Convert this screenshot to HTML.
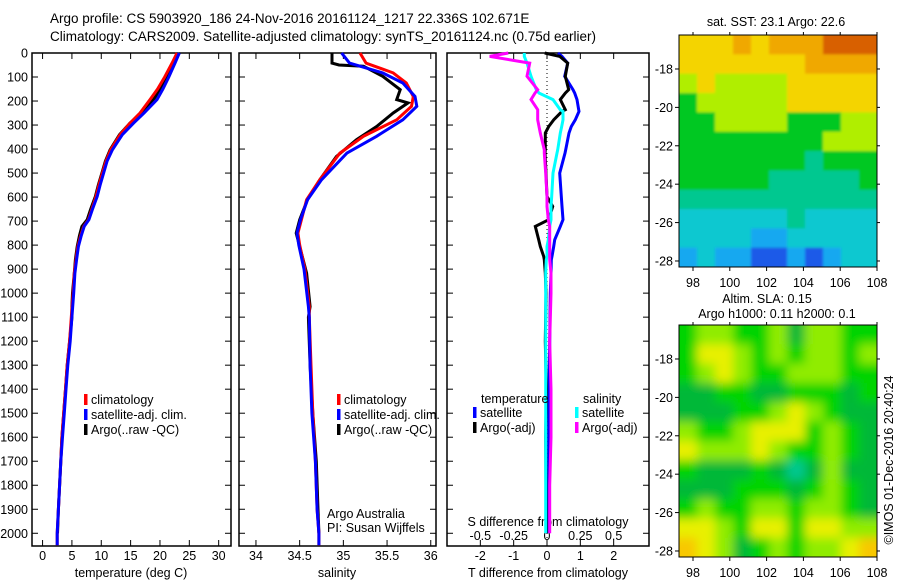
<!DOCTYPE html>
<html><head><meta charset="utf-8">
<style>
html,body{margin:0;padding:0;background:#fff;}
svg{display:block;font-family:"Liberation Sans",sans-serif;}
text{fill:#000;}
</style></head>
<body>
<svg id="fig" width="900" height="580" viewBox="0 0 900 580" xmlns="http://www.w3.org/2000/svg">
<defs>
<filter id="blur" x="0" y="0" width="1" height="1"><feGaussianBlur stdDeviation="5"/></filter>
<filter id="blur1" x="0" y="0" width="1" height="1"><feGaussianBlur stdDeviation="1.2"/></filter>
<clipPath id="clipMap2"><rect x="679" y="325" width="198" height="232"/></clipPath>
<clipPath id="clipMap1"><rect x="679" y="35" width="198" height="232"/></clipPath>
</defs>
<text x="50" y="23" font-size="13.5">Argo profile: CS 5903920_186 24-Nov-2016 20161124_1217 22.336S 102.671E</text>
<text x="50" y="41" font-size="13.5">Climatology: CARS2009. Satellite-adjusted climatology: synTS_20161124.nc (0.75d earlier)</text>
<g id="g"></g>
</svg>
<script>
// ---------- data ----------
const depthTickLabels=[0,100,200,300,400,500,600,700,800,900,1000,1100,1200,1300,1400,1500,1600,1700,1800,1900,2000];
const tempTicks=[0,5,10,15,20,25,30];
const salTicks=[34,34.5,35,35.5,36];
const salTickLabels=["34","34.5","35","35.5","36"];
const tdiffTicks=[-2,-1,0,1,2];
const sdiffTicks=[-0.5,-0.25,0,0.25,0.5];
const sdiffTickLabels=["-0.5","-0.25","0","0.25","0.5"];

const tArgoDepth=[0,40,100,150,194,250,292,340,403,450,500,550,597,650,694,722,760,806,860,917,1000,1056,1100,1200,1300,1400,1500,1600,1700,1800,1900,2000];
const tArgo=[23.1,22.3,21.2,20.1,18.9,16.9,14.9,13.1,11.5,10.7,10.1,9.5,9.0,8.2,7.6,6.7,6.3,5.9,5.6,5.4,5.1,5.0,5.0,4.6,4.2,3.9,3.6,3.3,3.1,2.9,2.7,2.55];
const tClimDepth=[0,40,100,150,194,250,292,340,403,450,500,550,597,650,694,722,760,806,860,917,1000,1100,1200,1300,1400,1500,1600,1700,1800,1900,2000,2050];
const tClim=[22.9,22.1,20.8,19.6,18.3,16.6,14.9,13.2,11.6,10.8,10.2,9.6,9.1,8.4,7.8,7.0,6.5,6.0,5.7,5.4,5.2,4.9,4.6,4.2,3.9,3.6,3.3,3.1,2.9,2.7,2.5,2.5];
const tSat=[23.3,22.6,21.5,20.5,19.5,17.3,15.5,13.6,11.9,11.0,10.4,9.8,9.3,8.5,7.9,7.1,6.6,6.1,5.8,5.5,5.3,5.0,4.7,4.3,4.0,3.7,3.4,3.1,2.9,2.7,2.5,2.5];

const sArgoDepth=[0,42,50,55,97,153,194,208,250,306,361,431,528,611,694,750,833,917,1056,1100,1300,1500,1700,1900,2000];
const sArgo=[34.87,34.87,34.95,35.23,35.45,35.65,35.61,35.74,35.57,35.38,35.15,34.92,34.73,34.59,34.50,34.46,34.52,34.58,34.62,34.60,34.62,34.65,34.69,34.71,34.72];
const sClimDepth=[0,42,83,125,181,222,278,347,417,528,611,694,750,800,900,1056,1100,1300,1500,1700,1900,2000,2050];
const sClim=[35.19,35.26,35.57,35.72,35.80,35.78,35.61,35.23,34.96,34.73,34.58,34.52,34.48,34.50,34.56,34.61,34.61,34.63,34.65,34.68,34.70,34.72,34.72];
const sSat=[34.98,35.07,35.45,35.68,35.82,35.84,35.68,35.38,35.04,34.75,34.59,34.51,34.47,34.49,34.55,34.60,34.61,34.62,34.64,34.68,34.70,34.72,34.72];

const dDepth=[0,14,42,97,153,167,194,236,243,278,306,333,403,417,500,597,639,694,722,778,806,847,861,917,1000,1200,1400,1600,1800,2000];
const dTSat=[0.33,0.45,0.62,0.53,0.78,0.83,0.9,0.95,0.96,0.85,0.73,0.66,0.56,0.54,0.38,0.43,0.45,0.48,0.4,0.23,0.2,0.15,0.13,0.12,0.1,0.08,0.06,0.05,0.05,0.05];
const dTArgo=[-0.07,0.38,0.62,0.55,0.65,0.55,0.4,0.55,0.45,0.2,0.05,-0.05,-0.05,-0.06,-0.03,0.0,0.17,0.05,-0.35,-0.25,-0.2,-0.1,-0.08,-0.05,-0.03,-0.05,-0.02,-0.04,-0.03,-0.02];
const dSSat=[-0.17,-0.17,-0.15,-0.12,-0.08,-0.06,0.045,0.1,0.12,0.12,0.11,0.1,0.08,0.075,0.045,0.035,0.03,0.03,0.02,0.01,0.0,0.0,-0.005,-0.01,-0.01,-0.01,-0.01,-0.01,-0.01,-0.01];
const dSArgo=[-0.29,-0.43,-0.13,-0.15,-0.07,-0.09,-0.12,-0.07,-0.07,-0.07,-0.06,-0.05,-0.02,-0.02,-0.01,0.0,0.0,0.01,0.02,0.02,0.02,0.02,0.02,0.03,0.03,0.02,0.03,0.03,0.02,0.02];

const lonTicks=[98,100,102,104,106,108];
const latTicks=[-18,-20,-22,-24,-26,-28];
// SST map: 12 rows (north->south) x 11 cols (west->east), colour class 0..9
const sstGrid=[
[7,7,7,8,7,8,8,8,9,9,9],
[7,7,7,7,7,7,7,8,8,8,8],
[6,7,6,6,6,6,7,7,7,7,7],
[5,6,6,6,6,6,7,7,7,7,7],
[5,5,6,6,6,6,5,5,5,6,6],
[5,5,5,5,5,5,5,5,6,6,6],
[5,5,5,5,5,5,5,4,5,5,5],
[5,5,5,5,5,4,4,4,4,4,5],
[4,4,4,4,4,4,4,4,4,4,4],
[3,3,3,3,3,3,4,3,3,3,3],
[3,3,3,3,2,2,3,3,3,3,3],
[2,3,2,2,1,1,2,1,2,3,3]];
// SLA map: colour class -1..4
const slaGrid=[
[1,2,2,1,1,2,0,2,2,1,1],
[1,3,3,2,1,2,1,2,2,1,2],
[1,2,3,2,1,1,2,2,2,1,1],
[0,0,1,1,0,0,1,1,1,0,1],
[0,0,0,1,1,2,3,2,1,0,0],
[2,1,1,2,3,3,3,1,2,1,0],
[3,2,2,2,3,2,1,1,2,1,0],
[1,0,0,0,1,0,-1,0,2,0,0],
[0,0,0,1,1,1,0,1,2,1,0],
[1,2,1,1,2,2,1,2,2,1,0],
[3,3,2,1,3,3,1,3,3,2,2],
[4,3,2,0,1,2,1,2,2,3,4]];

// ---------- drawing ----------
const NS="http://www.w3.org/2000/svg";
const G=document.getElementById('g');
function mk(tag,attrs,parent){const e=document.createElementNS(NS,tag);for(const k in attrs)e.setAttribute(k,attrs[k]);(parent||G).appendChild(e);return e;}
function txt(x,y,s,size,anchor,parent){const t=mk('text',{x:x,y:y,'font-size':size,'text-anchor':anchor||'start'},parent);t.textContent=s;return t;}

const TOP=53,BOT=546,D0=0,D1=2053;
const yD=d=>TOP+(d-D0)/(D1-D0)*(BOT-TOP);

function panel(name,x0,x1,vmin,vmax){
  const g=mk('g',{});
  
  
  mk('rect',{x:x0,y:TOP,width:x1-x0,height:BOT-TOP,fill:'none',stroke:'#000','stroke-width':1.5},g);
  return {g:g,x:v=>x0+(v-vmin)/(vmax-vmin)*(x1-x0),x0:x0,x1:x1};
}
function yticks(p,labels){
  depthTickLabels.forEach(d=>{const y=yD(d);
    mk('line',{x1:p.x0,x2:p.x0+6,y1:y,y2:y,stroke:'#000'},p.g);
    mk('line',{x1:p.x1,x2:p.x1-6,y1:y,y2:y,stroke:'#000'},p.g);
    if(labels){const t=txt(p.x0-4,y+4.5,String(d),12.5,'end',p.g);
      
      }
  });
}
function xticks(p,vals,labels,ly){
  vals.forEach((v,i)=>{const x=p.x(v);
    mk('line',{x1:x,x2:x,y1:BOT,y2:BOT-6,stroke:'#000'},p.g);
    mk('line',{x1:x,x2:x,y1:TOP,y2:TOP+6,stroke:'#000'},p.g);
    const t=txt(x,ly,labels?labels[i]:String(v),12.5,'middle',p.g);
    
    
  });
}
function line(p,depths,vals,color,w,name){
  const pts=depths.map((d,i)=>p.x(vals[i]).toFixed(1)+','+yD(d).toFixed(1)).join(' ');
  const l=mk('polyline',{points:pts,fill:'none',stroke:color,'stroke-width':w,'stroke-linejoin':'miter'},p.g);
  
  
}
function legend(g,x,y,items){
  items.forEach((it,i)=>{
    mk('rect',{x:x,y:y+i*15-11,width:3.5,height:11,fill:it[1]},g);
    const t=txt(x+7,y+i*15-1,it[0],12.5,'start',g);
    
    
  });
}

// Panel 1: temperature
const p1=panel('temperature-panel',32,231,-1.8,32.1);
yticks(p1,true);
xticks(p1,tempTicks,null,560);
line(p1,tArgoDepth,tArgo,'#000',3,'temp-argo-line');
line(p1,tClimDepth,tClim,'#f00',3,'temp-climatology-line');
line(p1,tClimDepth,tSat,'#00f',3,'temp-satellite-line');
txt(131,577,'temperature (deg C)',12.5,'middle',p1.g);
legend(p1.g,84,405,[['climatology','#f00'],['satellite-adj. clim.','#00f'],['Argo(..raw -QC)','#000']]);

// Panel 2: salinity
const p2=panel('salinity-panel',239,436,33.806,36.06);
yticks(p2,false);
xticks(p2,salTicks,salTickLabels,560);
line(p2,sArgoDepth,sArgo,'#000',3,'sal-argo-line');
line(p2,sClimDepth,sClim,'#f00',3,'sal-climatology-line');
line(p2,sClimDepth,sSat,'#00f',3,'sal-satellite-line');
txt(337,577,'salinity',12.5,'middle',p2.g);
legend(p2.g,337,405,[['climatology','#f00'],['satellite-adj. clim.','#00f'],['Argo(..raw -QC)','#000']]);
txt(327,518,'Argo Australia',12.5,'start',p2.g);
txt(327,532,'PI: Susan Wijffels',12.5,'start',p2.g);

// Panel 3: differences
const p3=panel('difference-panel',447,649,-3.0,3.06);
yticks(p3,false);
xticks(p3,tdiffTicks,null,560);
const sx=v=>p3.x(v*4);
mk('line',{x1:p3.x(0),x2:p3.x(0),y1:TOP,y2:BOT,stroke:'#000','stroke-dasharray':'1,3'},p3.g);
sdiffTicks.forEach((v,i)=>{const tt=txt(sx(v),540,sdiffTickLabels[i],12.5,'middle',p3.g);
  
  });
txt(548,526,'S difference from climatology',12.5,'middle',p3.g);
txt(548,577,'T difference from climatology',12.5,'middle',p3.g);
line(p3,dDepth,dTSat,'#00f',3,'tdiff-satellite-line');
line(p3,dDepth,dTArgo,'#000',3,'tdiff-argo-line');
line(p3,dDepth,dSSat.map(v=>v*4),'#0ff',3,'sdiff-satellite-line');
line(p3,dDepth,dSArgo.map(v=>v*4),'#f0f',3,'sdiff-argo-line');
txt(481,403,'temperature',12.5,'start',p3.g);
txt(583,403,'salinity',12.5,'start',p3.g);
legend(p3.g,473,418,[['satellite','#00f'],['Argo(-adj)','#000']]);
legend(p3.g,575,418,[['satellite','#0ff'],['Argo(-adj)','#f0f']]);

// Maps
const sstColors=['#0a22b8','#1a5ae8','#18a8f0','#10c8d0','#00c890','#00c820','#b0ee00','#f4d400','#f0a800','#d86000'];
const slaColors={'-1':'#00c890','0':'#00b838','1':'#00d400','2':'#90ec00','3':'#e8f000','4':'#f8c800'};
function map(name,x0,y0,w,h,grid,colorOf,filt,clip){
  const g=mk('g',{});
  
  
  const inner=mk('g',{filter:filt},mk('g',{'clip-path':clip},g));
  const R=grid.length,C=grid[0].length,cw=w/C,ch=h/R;
  grid.forEach((row,r)=>row.forEach((v,c)=>{
    const cell=mk('rect',{x:x0+c*cw-(c==0?20:0),y:y0+r*ch-(r==0?20:0),width:cw+(c==0||c==C-1?20:0)+0.6,height:ch+(r==0||r==R-1?20:0)+0.6,fill:colorOf(v)},inner);
    
    
  }));
  mk('rect',{x:x0,y:y0,width:w,height:h,fill:'none',stroke:'#000','stroke-width':1},g);
  const lx=v=>693+(v-98)*18.4;
  const ly=v=>y0+(h/232)*((-16.23-v)*19.2);
  lonTicks.forEach(v=>{const x=lx(v);
    mk('line',{x1:x,x2:x,y1:y0+h,y2:y0+h+4,stroke:'#000'},g);
    mk('line',{x1:x,x2:x,y1:y0,y2:y0-3,stroke:'#000'},g);
    txt(x,y0+h+20,String(v),12.5,'middle',g);});
  latTicks.forEach(v=>{const y=ly(v);
    mk('line',{x1:x0,x2:x0-4,y1:y,y2:y,stroke:'#000'},g);
    mk('line',{x1:x0+w,x2:x0+w+3,y1:y,y2:y,stroke:'#000'},g);
    txt(x0-6,y+4.5,String(v),12.5,'end',g);});
  return g;
}
map('sst-map',679,35,198,232,sstGrid,v=>sstColors[v],'url(#blur1)','url(#clipMap1)');
txt(776,26,'sat. SST: 23.1 Argo: 22.6',12.5,'middle');
map('sla-map',679,325,198,232,slaGrid,v=>slaColors[String(v)],'url(#blur)','url(#clipMap2)');
txt(767,303,'Altim. SLA: 0.15',12.5,'middle');
txt(777,318,'Argo h1000: 0.11 h2000: 0.1',12.5,'middle');
const cr=txt(0,0,'©IMOS 01-Dec-2016 20:40:24',12.5,'middle');
cr.setAttribute('transform','translate(893,460) rotate(-90)');


</script>
</body></html>
